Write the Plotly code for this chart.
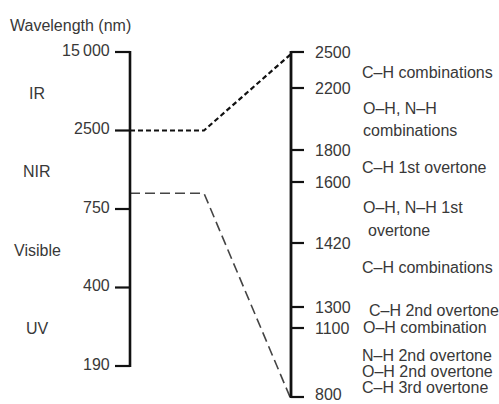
import plotly.graph_objects as go

# ---------------- data ----------------
title_text = "Wavelength (nm)"
left_tick_labels = ["15\u2009000", "2500", "750", "400", "190"]
region_labels = ["IR", "NIR", "Visible", "UV"]
right_tick_values = [2500, 2200, 1800, 1600, 1420, 1300, 1100, 800]
band_lines = [
    "C–H combinations",
    "O–H, N–H",
    "combinations",
    "C–H 1st overtone",
    "O–H, N–H 1st",
    "overtone",
    "C–H combinations",
    "C–H 2nd overtone",
    "O–H combination",
    "N–H 2nd overtone",
    "O–H 2nd overtone",
    "C–H 3rd overtone",
]

# ---------------- schematic layout (layout units = px) ----------------
W, H = 499, 404
LEFT_X, RIGHT_X = 130, 291
LEFT_TOP, LEFT_STEP = 52, 78.5
LEFT_TICKLEN, RIGHT_TICKLEN = 15, 13
right_tick_y = [52, 88, 150, 182, 243, 307, 328, 397]
band_y = [72, 108, 130, 167, 207, 230, 267, 310, 327, 355, 371, 387]
band_x = [360, 361, 361, 360, 361, 366, 360, 367, 361, 360, 360, 360]
BEND_X = 204
LOWER_CONNECTOR_LEVEL = 1.8   # position on left scale (between 2500 and 750)

FONT = "Liberation Sans, Arial, sans-serif"
TXT = "#383838"
FS = 16

left_tick_y = [LEFT_TOP + i * LEFT_STEP for i in range(len(left_tick_labels))]

fig = go.Figure()


def seg_trace(xs, ys, width, color, dash="solid"):
    return go.Scatter(x=xs, y=ys, mode="lines", hoverinfo="skip", showlegend=False,
                      line=dict(color=color, width=width, dash=dash))


# connectors
up_y = left_tick_y[1]
low_y = LEFT_TOP + LOWER_CONNECTOR_LEVEL * LEFT_STEP
fig.add_trace(seg_trace([LEFT_X, BEND_X, RIGHT_X], [up_y, up_y, right_tick_y[0] + 2],
                        2.2, "#111111", "5px,3px"))
fig.add_trace(seg_trace([LEFT_X, BEND_X, RIGHT_X - 1], [low_y, low_y, right_tick_y[-1]],
                        1.6, "#444444", "10px,5px"))

# left axis
fig.add_trace(seg_trace([LEFT_X, LEFT_X], [left_tick_y[0] - 1, left_tick_y[-1] + 1], 2.6, "#111111"))
xs, ys = [], []
for y in left_tick_y:
    xs += [LEFT_X - LEFT_TICKLEN, LEFT_X, None]
    ys += [y, y, None]
fig.add_trace(seg_trace(xs, ys, 2.2, "#111111"))

# right axis
fig.add_trace(seg_trace([RIGHT_X, RIGHT_X], [right_tick_y[0] - 1, right_tick_y[-1] + 1], 2.8, "#111111"))
xs, ys = [], []
for y in right_tick_y:
    xs += [RIGHT_X, RIGHT_X + RIGHT_TICKLEN, None]
    ys += [y, y, None]
fig.add_trace(seg_trace(xs, ys, 2.2, "#111111"))

annotations = []
font = dict(family=FONT, size=FS, color=TXT)
annotations.append(dict(x=8, y=25, text=title_text, xanchor="left", yanchor="middle",
                        showarrow=False, font=font))
for lab, y in zip(left_tick_labels, left_tick_y):
    annotations.append(dict(x=LEFT_X - LEFT_TICKLEN - 3, y=y - 2, text=lab, xanchor="right",
                            yanchor="middle", showarrow=False, font=font))
for i, lab in enumerate(region_labels):
    y = (left_tick_y[i] + left_tick_y[i + 1]) / 2 + 2
    annotations.append(dict(x=37, y=y, text=lab, xanchor="center", yanchor="middle",
                            showarrow=False, font=font))
for v, y in zip(right_tick_values, right_tick_y):
    y_txt = min(y, H - 10)
    annotations.append(dict(x=RIGHT_X + RIGHT_TICKLEN + 9, y=y_txt, text=str(v), xanchor="left",
                            yanchor="middle", showarrow=False, font=font))
for lab, x, y in zip(band_lines, band_x, band_y):
    annotations.append(dict(x=x, y=y, text=lab, xanchor="left", yanchor="middle",
                            showarrow=False, font=font))

fig.update_layout(
    width=W, height=H, autosize=False,
    margin=dict(l=0, r=0, t=0, b=0),
    paper_bgcolor="white", plot_bgcolor="white",
    xaxis=dict(range=[0, W], visible=False, fixedrange=True),
    yaxis=dict(range=[H, 0], visible=False, fixedrange=True),
    annotations=annotations,
    showlegend=False,
)

fig.write_html("out.html", config={"displayModeBar": False},
               post_script="document.body.style.margin='0';document.body.style.overflow='hidden';")
